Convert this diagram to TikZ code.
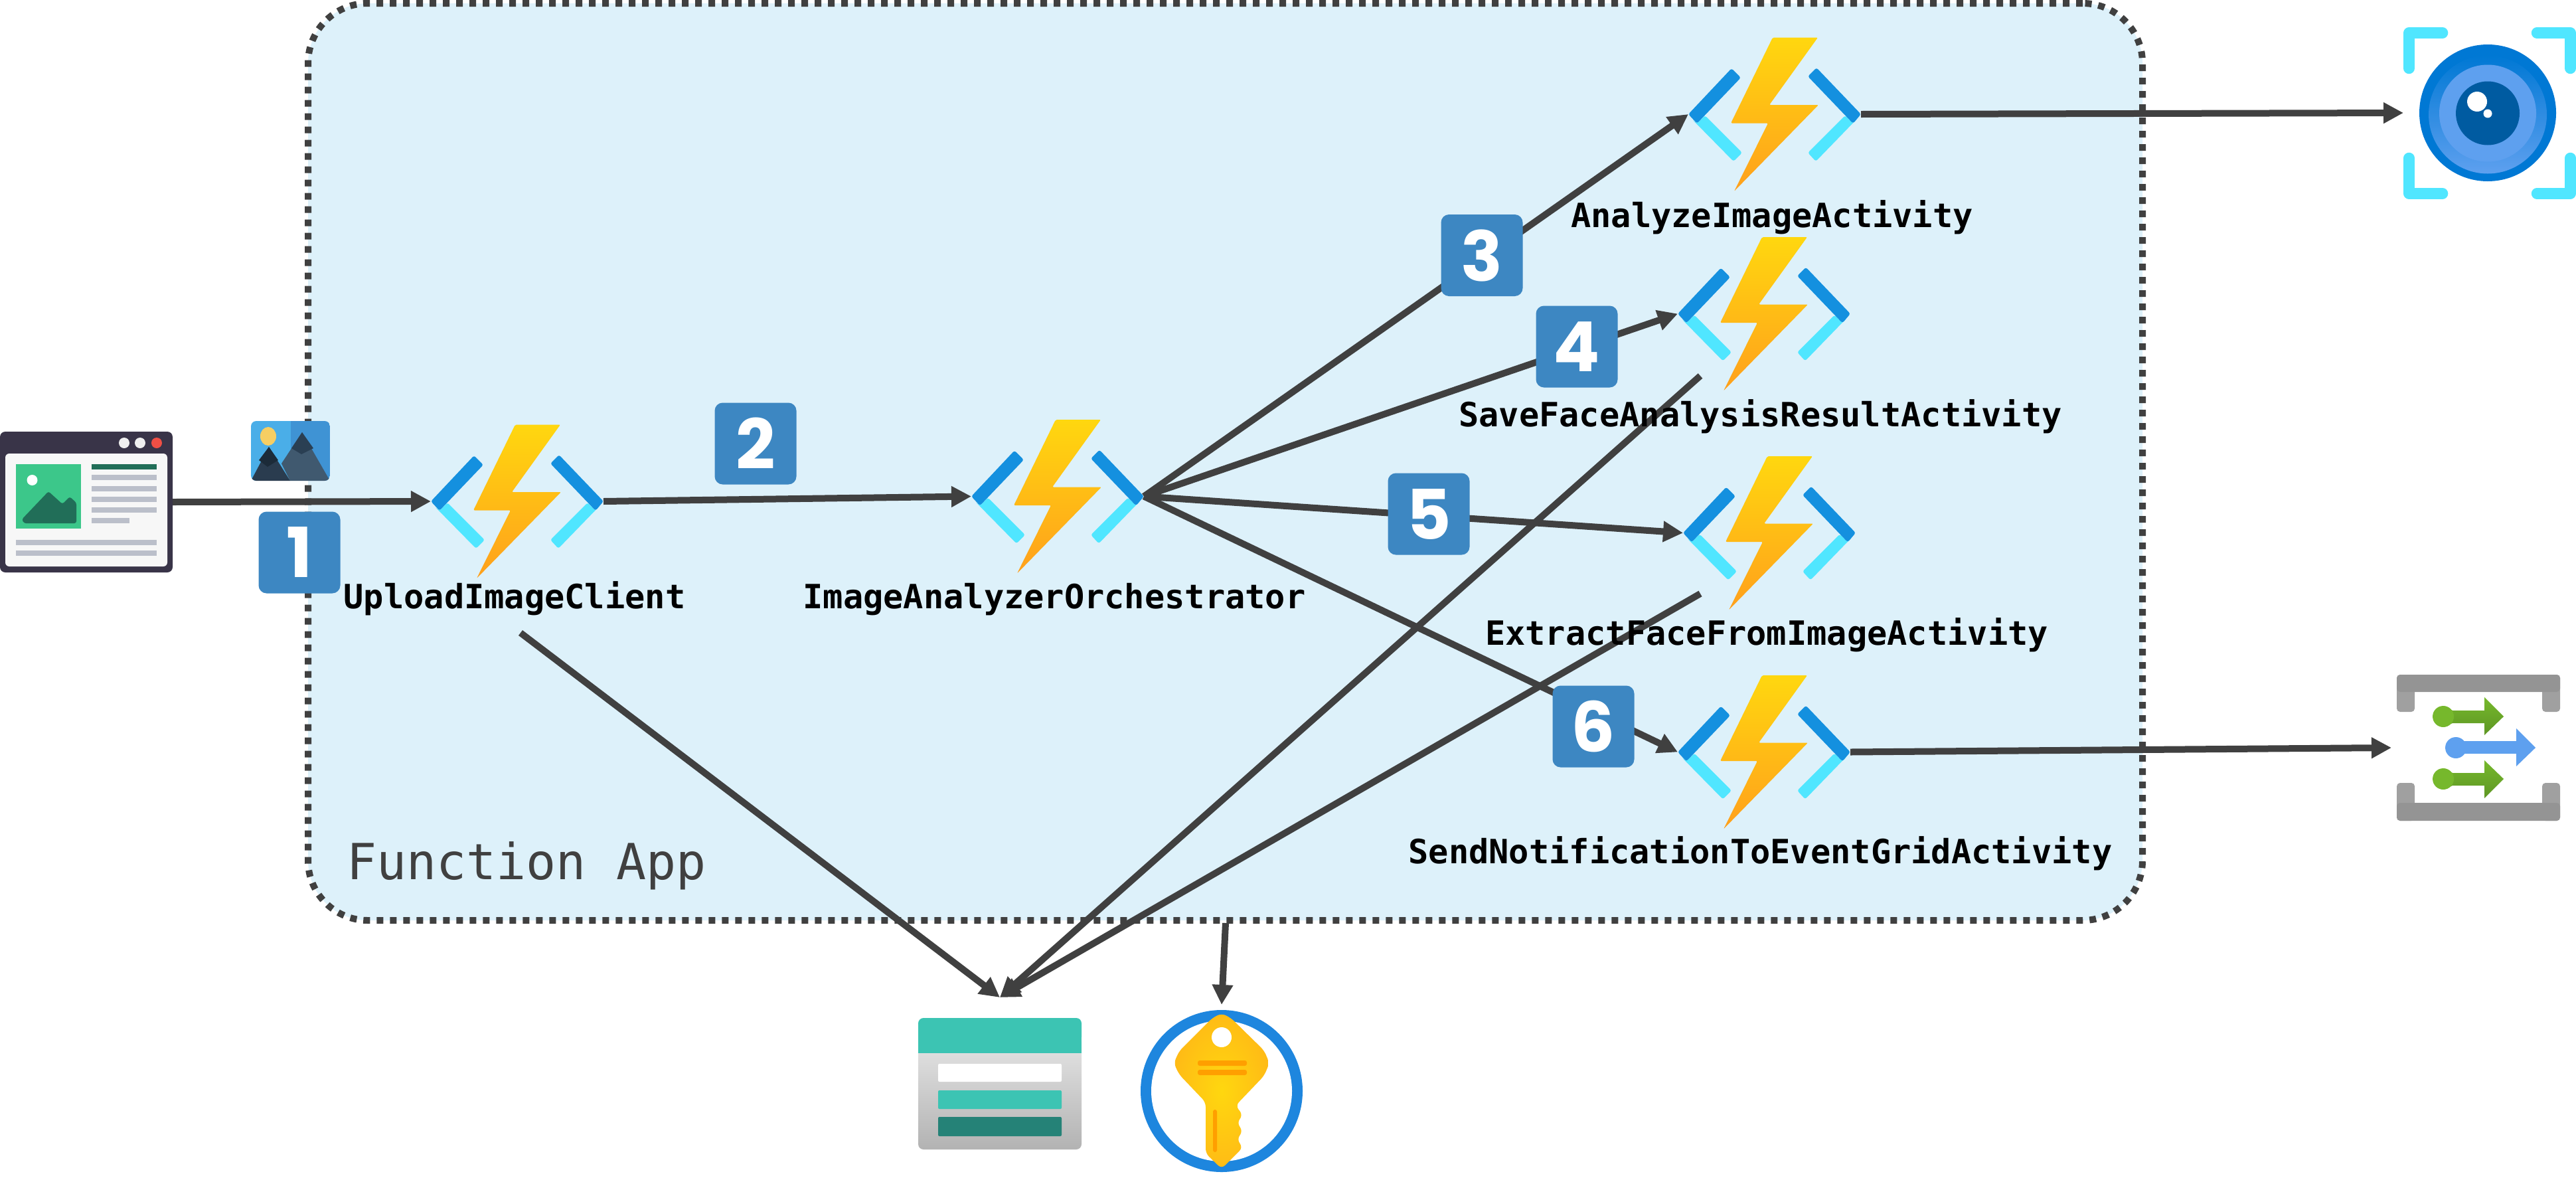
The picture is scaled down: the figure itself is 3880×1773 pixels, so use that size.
\documentclass[tikz,border=0pt]{standalone}
\usepackage{fontspec}
\usetikzlibrary{arrows.meta}
\newfontfamily\labelfamily{DejaVu Sans Mono}
\newfontfamily\badgefamily{Poppins}
\definecolor{lineC}{HTML}{404040}
\definecolor{paneC}{HTML}{DDF1FA}
\definecolor{badgeC}{HTML}{3D87C2}
\definecolor{bracketD}{HTML}{1490DF}
\definecolor{bracketL}{HTML}{50E6FF}
\definecolor{boltT}{HTML}{FFD70F}
\definecolor{boltM}{HTML}{FFAF1A}
\definecolor{boltB}{HTML}{FFA01C}
\definecolor{winC}{HTML}{393448}
\definecolor{barC}{HTML}{BBBFCA}
\definecolor{greenL}{HTML}{3CC78A}
\definecolor{greenD}{HTML}{216E58}
\definecolor{tealC}{HTML}{3CC4B3}
\definecolor{tealD}{HTML}{258277}
\definecolor{ringC}{HTML}{1E86DE}
\definecolor{keyBar}{HTML}{FF9F00}
\definecolor{eyeA}{HTML}{0078D4}
\definecolor{eyeB}{HTML}{5EA0EF}
\definecolor{eyeC}{HTML}{005BA1}
\definecolor{gridA}{HTML}{949494}
\definecolor{gridB}{HTML}{A0A0A0}
\definecolor{arrG1}{HTML}{76B82C}
\definecolor{arrG2}{HTML}{5E9624}
\definecolor{picSky}{HTML}{4AAEE8}
\definecolor{picSkyD}{HTML}{3F93D4}
\definecolor{picSun}{HTML}{F6CE63}
\definecolor{picBack}{HTML}{40596F}
\definecolor{picBackP}{HTML}{2A3F53}
\definecolor{picFront}{HTML}{2A3C4F}
\definecolor{picFrontP}{HTML}{1C2B39}
\definecolor{winDot}{HTML}{EFEFEF}
\definecolor{winRed}{HTML}{F04F45}
\definecolor{winPane}{HTML}{F7F7F7}
\tikzset{
  conn/.style={draw=lineC,line width=10pt,-{Triangle[length=30pt,width=30pt]}},
  iconbox/.style={inner sep=0pt,outer sep=0pt,minimum width=260pt,minimum height=232pt},
  hidden/.style={inner sep=0pt,outer sep=0pt},
  badge/.style={fill=badgeC,text=white,rounded corners=12pt,inner sep=0pt,outer sep=0pt,
    minimum width=123pt,minimum height=123pt,font=\badgefamily\bfseries\fontsize{104}{110}\selectfont},
  fname/.style={anchor=base,inner sep=0pt,text=black,font=\labelfamily\bfseries\fontsize{50.3}{60}\selectfont},
  funcicon/.pic={
    \fill[bracketL,rounded corners=3pt] (-117,14)--(-105,2)--(-49,58)--(-62,71)--(-124,8)--cycle;
    \fill[bracketD,rounded corners=3pt] (-130,0)--(-65,-69)--(-51,-55)--(-117,14)--cycle;
    \fill[bracketL,rounded corners=3pt] (118,14)--(106,2)--(50,58)--(62,71)--(125,6)--cycle;
    \fill[bracketD,rounded corners=3pt] (130,0)--(63,-70)--(50,-57)--(118,14)--cycle;
    \shade[top color=boltT,middle color=boltM,bottom color=boltB,rounded corners=2pt]
      (-3,-115.5)--(65,-115.5)--(-8,-14)--(66,-14)--(-61,116)--(-10,13.5)--(-66,13.5)--cycle;
  }
}
\begin{document}
\begin{tikzpicture}[x=1pt,y=-1pt]
\useasboundingbox (0,0) rectangle (3880,1773);
% container
\node (app) at (1845.5,695.5) [draw=lineC,fill=paneC,line width=10pt,dash pattern=on 10pt off 10pt,
  rounded corners=90pt,minimum width=2763pt,minimum height=1381pt,inner sep=0pt,outer sep=0pt] {};
\node (applabel) at (522,1324) [anchor=base west,inner sep=0pt,text=lineC,
  font=\labelfamily\fontsize{74.9}{80}\selectfont] {Function App};
% anchors of the icons
\node (client) at (130,756) [hidden,minimum width=260pt,minimum height=212pt] {};
\node (f1) at (779,755) [iconbox] {};
\node (f2) at (1593,747.5) [iconbox] {};
\node (f3) at (2673,172) [iconbox] {};
\node (f4) at (2657,472.5) [iconbox] {};
\node (f5) at (2665,802.5) [iconbox] {};
\node (f6) at (2657,1132.5) [iconbox] {};
\node (eye) at (3750,170) [hidden,minimum width=260pt,minimum height=260pt] {};
\node (grid) at (3729,1126) [hidden,minimum width=254pt,minimum height=220pt] {};
\node (store) at (1506,1616.5) [hidden,minimum width=246pt,minimum height=229pt] {};
\node (vault) at (1840,1643) [hidden,minimum width=245pt,minimum height=260pt] {};
\coordinate (fromClient) at (784,953);
\coordinate (fromSave) at (2561,566);
\coordinate (fromExtract) at (2561,894);
\coordinate (fromApp) at (1846,1390);
% connectors
\draw[conn] (client.east) -- (f1.west);
\draw[conn] (f1.east) -- (f2.west);
\draw[conn] (f2.east) -- (f3.west);
\draw[conn] (f2.east) -- (f4.west);
\draw[conn] (f2.east) -- (f5.west);
\draw[conn] (f2.east) -- (f6.west);
\draw[conn] (f3.east) -- (eye.west);
\draw[conn] (f6.east) -- (grid.west);
\draw[conn] (fromClient) -- (store.north);
\draw[conn] (fromSave) -- (store.north);
\draw[conn] (fromExtract) -- (store.north);
\draw[conn] (fromApp) -- (vault.north);
% function icons
\pic at (f1) {funcicon};
\pic at (f2) {funcicon};
\pic at (f3) {funcicon};
\pic at (f4) {funcicon};
\pic at (f5) {funcicon};
\pic at (f6) {funcicon};
% browser window
\fill[winC,rounded corners=8pt] (0,650) rectangle (260,862);
\fill[winPane,rounded corners=6pt] (8,683) rectangle (252,853);
\fill[winDot] (187,667) ellipse [x radius=8pt,y radius=8pt];
\fill[winDot] (211,667) ellipse [x radius=8pt,y radius=8pt];
\fill[winRed] (236,667) ellipse [x radius=8pt,y radius=8pt];
\fill[greenL] (24,699) rectangle (122,796);
\fill[white] (48.5,723) ellipse [x radius=8pt,y radius=8pt];
\fill[greenD,rounded corners=3pt] (33,782)--(73,740)--(94,759)--(105,748)--(115,757)--(115,788)--(36,788)--cycle;
\fill[greenD] (138,699) rectangle (236,707);
\fill[barC] (138,715) rectangle (236,723);
\fill[barC] (138,732) rectangle (236,740);
\fill[barC] (138,748) rectangle (236,756);
\fill[barC] (138,764) rectangle (236,772);
\fill[barC] (138,780) rectangle (195,788);
\fill[barC] (24,813) rectangle (236,821);
\fill[barC] (24,829) rectangle (236,837);
% picture icon
\begin{scope}
\clip[rounded corners=8pt] (378,634) rectangle (497,724);
\fill[picSky] (378,634) rectangle (437.5,724);
\fill[picSkyD] (437.5,634) rectangle (497,724);
\fill[picSun] (404,657) ellipse [x radius=12pt,y radius=14pt];
\fill[picBack] (455,651)--(497,724)--(437,724)--(424,698)--cycle;
\fill[picBackP] (455,651)--(472,675)--(454,684)--(439,675)--cycle;
\fill[picFront] (405,673)--(437,724)--(378,724)--cycle;
\fill[picFrontP] (405,673)--(419,693)--(403,703)--(390,693)--cycle;
\end{scope}
% table storage
\shade[top color=white!90!black,bottom color=white!70!black,rounded corners=8pt] (1383,1560) rectangle (1629,1731);
\fill[tealC,rounded corners=8pt] (1383,1533) rectangle (1629,1570);
\fill[tealC] (1383,1560) rectangle (1629,1586);
\fill[white,rounded corners=2pt] (1413,1602) rectangle (1599,1629);
\fill[tealC,rounded corners=2pt] (1413,1642) rectangle (1599,1670);
\fill[tealD,rounded corners=2pt] (1413,1682) rectangle (1599,1711);
% key vault
\begin{scope}[shift={(vault.center)}]
\fill[ringC] (0,0) circle[radius=122pt];
\fill[white] (0,0) circle[radius=106pt];
\shade[inner color=boltT,outer color=boltB!50!boltT,rounded corners=7pt]
  (0,-117)--(-14,-110)--(-64,-60)--(-72,-42)--(-64,-25)--(-24,17)--(-24,94)--(0,117)--(32,85)--(23,73)--(32,60)--(23,48)--(32,36)--(21,22)--(64,-23)--(72,-42)--(64,-61)--(14,-110)--cycle;
\fill[white] (0,-81) ellipse [x radius=15pt,y radius=15pt];
\fill[keyBar,rounded corners=3pt] (-36,-46) rectangle (38,-38);
\fill[keyBar,rounded corners=3pt] (-36,-32) rectangle (38,-24);
\fill[keyBar,rounded corners=3pt] (-13,28) rectangle (-7,92);
\end{scope}
% computer vision
\begin{scope}[line width=16.5pt,line cap=round,line join=round,draw=bracketL]
\draw (3628.5,103)--(3628.5,49.5)--(3679,49.5);
\draw (3871.5,103)--(3871.5,49.5)--(3821,49.5);
\draw (3628.5,238)--(3628.5,291.5)--(3679,291.5);
\draw (3871.5,238)--(3871.5,291.5)--(3821,291.5);
\end{scope}
\fill[eyeA] (3747,170) circle[radius=103pt];
\shade[top color=eyeA,bottom color=eyeB] (3747,172.5) circle[radius=89pt];
\fill[eyeB] (3747,170.5) circle[radius=73pt];
\fill[eyeC] (3747,170.5) circle[radius=48pt];
\fill[white] (3731,153) circle[radius=15pt];
\fill[white] (3747,171) circle[radius=6.5pt];
% event grid
\fill[gridB,rounded corners=5pt] (3610,1016) rectangle (3637,1072);
\fill[gridB,rounded corners=5pt] (3829,1016) rectangle (3856,1072);
\fill[gridB,rounded corners=5pt] (3610,1179) rectangle (3637,1236);
\fill[gridB,rounded corners=5pt] (3829,1179) rectangle (3856,1236);
\fill[gridA,rounded corners=5pt] (3610,1016) rectangle (3856,1042);
\fill[gridA,rounded corners=5pt] (3610,1209) rectangle (3856,1236);
\shade[top color=arrG1,bottom color=arrG2] (3680,1063)--(3694,1070)--(3742,1070)--(3742,1050)--(3771,1079)--(3742,1107)--(3742,1089)--(3694,1089)--(3680,1095)--(3664,1079)--cycle;
\fill[arrG1] (3680,1079) circle[radius=16pt];
\fill[eyeB] (3699,1126) circle[radius=16pt];
\fill[eyeB] (3699,1116)--(3790,1116)--(3790,1097)--(3819,1126)--(3790,1154)--(3790,1135)--(3699,1135)--cycle;
\shade[top color=arrG1,bottom color=arrG2] (3680,1157)--(3694,1164)--(3742,1164)--(3742,1145)--(3771,1173)--(3742,1202)--(3742,1183)--(3694,1183)--(3680,1189)--(3664,1173)--cycle;
\fill[arrG1] (3680,1173) circle[radius=16pt];
% badges
\node (b1) at (451,832) [badge] {1};
\node (b2) at (1138,668) [badge] {2};
\node (b3) at (2232,384.5) [badge] {3};
\node (b4) at (2375,522) [badge] {4};
\node (b5) at (2152,774) [badge] {5};
\node (b6) at (2400,1094) [badge] {6};
% labels
\node (l1) at (775,916) [fname] {UploadImageClient};
\node (l2) at (1588,916) [fname] {ImageAnalyzerOrchestrator};
\node (l3) at (2669,342) [fname] {AnalyzeImageActivity};
\node (l4) at (2651.5,642) [fname] {SaveFaceAnalysisResultActivity};
\node (l5) at (2661,971) [fname] {ExtractFaceFromImageActivity};
\node (l6) at (2651.5,1300) [fname] {SendNotificationToEventGridActivity};
\end{tikzpicture}
\end{document}
